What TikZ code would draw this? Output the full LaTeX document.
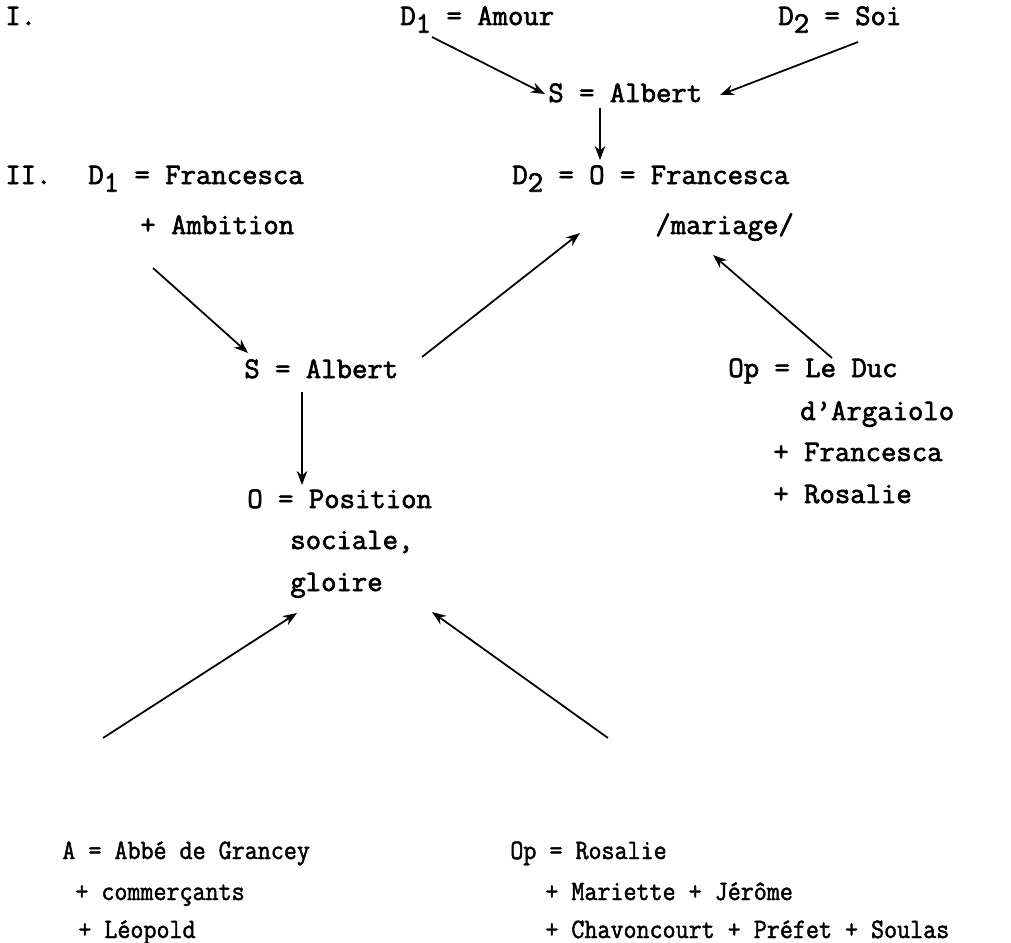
\documentclass[tikz,border=0pt]{standalone}
\usepackage{fontspec}
\newfontfamily\typew[FakeBold=2.2]{Latin Modern Mono}
\newfontfamily\typen[FakeStretch=0.9,FakeBold=1.6]{Latin Modern Mono}
\usetikzlibrary{arrows.meta,calc}
\newcommand{\idx}[1]{\raisebox{-0.6ex}{#1}}

\begin{document}
\begin{tikzpicture}[x=0.02cm,y=-0.02cm,
	txt/.style = {anchor=base west, inner sep=0pt, font=\typew\fontsize{17}{19}\selectfont},
	txtn/.style = {anchor=base west, inner sep=0pt, font=\typen\fontsize{16}{19}\selectfont},
	arr/.style = {-{Stealth[length=8pt,width=6pt]}, line width=1pt}]
	\useasboundingbox (0,0) rectangle (1011,943);
	% schema I
	\node[txt] (romI) at (5,25) {I.};
	\node[txt] (dA) at (400,25) {D\idx{1} = Amour};
	\node[txt] (dB) at (778,25) {D\idx{2} = Soi};
	\node[txt] (sA) at (548,102) {S = Albert};
	% schema II
	\node[txt] (romII) at (5,184) {II.};
	\node[txt] (dC) at (88,184) {D\idx{1} = Francesca};
	\node[txt] (dCb) at (140,234) {+ Ambition};
	\node[txt] (oA) at (512,184) {D\idx{2} = O = Francesca};
	\node[txt] (oAb) at (655,234) {/mariage/};
	\node[txt] (sB) at (244,378) {S = Albert};
	\node[txt] (opA) at (728,377) {Op = Le Duc};
	\node[txt] (opAb) at (800,420) {d’Argaiolo};
	\node[txt] (opAc) at (773,461) {+ Francesca};
	\node[txt] (opAd) at (773,503) {+ Rosalie};
	\node[txt] (oB) at (247,508) {O = Position};
	\node[txt] (oBb) at (290,549) {sociale,};
	\node[txt] (oBc) at (290,591) {gloire};
	\node[txtn] (aA) at (62,859) {A = Abbé de Grancey};
	\node[txtn] (aAb) at (75,900) {+ commerçants};
	\node[txtn] (aAc) at (78,938) {+ Léopold};
	\node[txtn] (opB) at (510,859) {Op = Rosalie};
	\node[txtn] (opBb) at (545,900) {+ Mariette + Jérôme};
	\node[txtn] (opBc) at (545,938) {+ Chavoncourt + Préfet + Soulas};

	\draw[arr] ($(dA.base west)+(32,12)$) -- ($(sA.base west)+(-3,-8)$);
	\draw[arr] ($(dB.base west)+(80,17)$) -- ($(sA.base west)+(172,-7)$);
	\draw[arr] ($(sA.base west)+(52,6)$) -- ($(oA.base west)+(88,-24)$);
	\draw[arr] ($(dCb.base west)+(13,34)$) -- ($(sB.base west)+(4,-25)$);
	\draw[arr] ($(sB.base west)+(178,-21)$) -- ($(oA.base west)+(68,49)$);
	\draw[arr] ($(opA.base west)+(104,-19)$) -- ($(oAb.base west)+(58,21)$);
	\draw[arr] ($(sB.base west)+(58,14)$) -- ($(oB.base west)+(55,-23)$);
	\draw[arr] ($(aA.base west)+(41,-121)$) -- ($(oBc.base west)+(7,22)$);
	\draw[arr] ($(opB.base west)+(98,-121)$) -- ($(oBc.base west)+(142,21)$);
\end{tikzpicture}
\end{document}
